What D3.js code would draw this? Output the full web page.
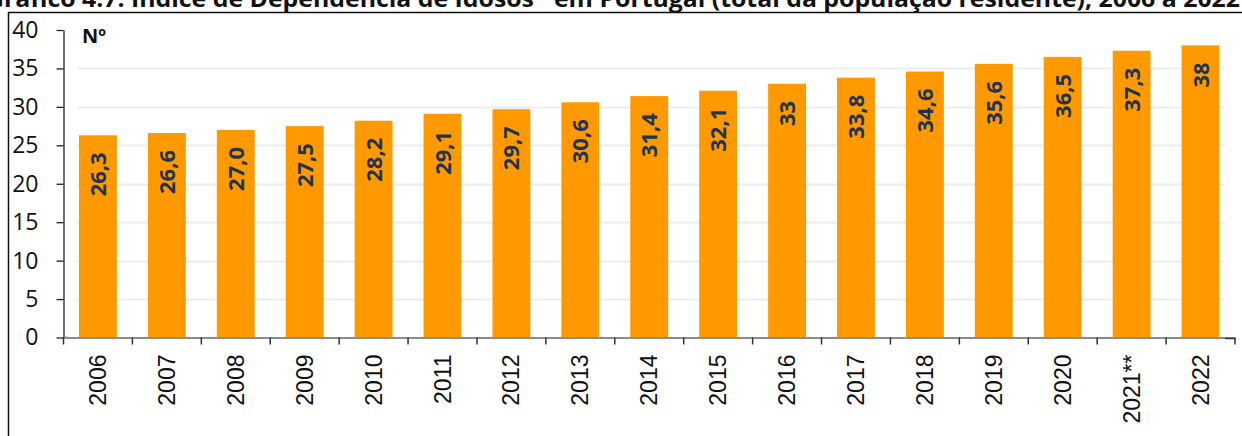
<!DOCTYPE html>
<html>
<head>
<meta charset="utf-8">
<script src="https://cdn.jsdelivr.net/npm/d3@7"></script>
<style>
  html, body { margin: 0; padding: 0; background: #fff; }
  svg { display: block; }
</style>
</head>
<body>
<svg id="chart" width="1242" height="436"></svg>
<script>
const title = "Gráfico 4.7: Índice de Dependência de Idosos* em Portugal (total da população residente), 2006 a 2022";
const categories = ["2006","2007","2008","2009","2010","2011","2012","2013","2014","2015","2016","2017","2018","2019","2020","2021**","2022"];
const values = [26.3, 26.6, 27.0, 27.5, 28.2, 29.1, 29.7, 30.6, 31.4, 32.1, 33, 33.8, 34.6, 35.6, 36.5, 37.3, 38];
const valueLabels = ["26,3","26,6","27,0","27,5","28,2","29,1","29,7","30,6","31,4","32,1","33","33,8","34,6","35,6","36,5","37,3","38"];
const yTicks = [0, 5, 10, 15, 20, 25, 30, 35, 40];
const unitLabel = "Nº";

const svg = d3.select("#chart");
const W = 1242, H = 436;

// frame + title
svg.append("text")
  .attr("x", -14).attr("y", 7)
  .attr("textLength", 1254).attr("lengthAdjust", "spacingAndGlyphs")
  .style("font-family", "'Open Sans', 'Liberation Sans', sans-serif")
  .style("font-weight", "bold").style("font-size", "24px")
  .attr("fill", "#111")
  .text(title);
svg.append("line").attr("x1", 8).attr("x2", W).attr("y1", 12.5).attr("y2", 12.5)
  .attr("stroke", "#111").attr("stroke-width", 1.5);
svg.append("line").attr("x1", 8.5).attr("x2", 8.5).attr("y1", 12).attr("y2", H)
  .attr("stroke", "#111").attr("stroke-width", 1.5);

const x0 = 63.5, x1 = 1235, yTop = 30, yBot = 337.5;
const x = d3.scaleBand().domain(categories).range([x0, x1]).paddingInner(0.45).paddingOuter(0.225);
const y = d3.scaleLinear().domain([0, 40]).range([yBot, yTop]);

// gridlines
svg.append("g").selectAll("line").data(yTicks.filter(t => t > 0 && t < 40)).join("line")
  .attr("x1", 77).attr("x2", 1225)
  .attr("y1", d => Math.round(y(d)) + 0.5).attr("y2", d => Math.round(y(d)) + 0.5)
  .attr("stroke", "#ececec").attr("stroke-width", 2);

// bars
svg.append("g").selectAll("rect").data(values).join("rect")
  .attr("x", (d, i) => x(categories[i]))
  .attr("width", x.bandwidth())
  .attr("y", d => y(d))
  .attr("height", d => yBot - y(d))
  .attr("fill", "#ff9900");

// value labels
svg.append("g").selectAll("text").data(values).join("text")
  .attr("transform", (d, i) => `translate(${x(categories[i]) + x.bandwidth() / 2 + 8},${y(d) + 17}) rotate(-90)`)
  .attr("text-anchor", "end")
  .style("font-family", "'Open Sans', sans-serif")
  .style("font-weight", "bold").style("font-size", "22px")
  .attr("fill", "#1f3452")
  .text((d, i) => valueLabels[i]);

// y axis
const yAxis = d3.axisLeft(y).tickValues(yTicks).tickSize(7).tickSizeOuter(0).tickFormat(d3.format("d"));
const gy = svg.append("g").attr("transform", `translate(${x0},0)`).call(yAxis);
gy.select(".domain").attr("stroke", "#222").attr("stroke-width", 1.3);
gy.selectAll(".tick line").attr("stroke", "#222").attr("stroke-width", 1.3);
gy.selectAll(".tick text")
  .attr("x", -25)
  .style("font-family", "'Open Sans', sans-serif").style("font-size", "23px").attr("fill", "#111");
// zero tick crossing
svg.append("line").attr("x1", x0).attr("x2", x0 + 5).attr("y1", yBot).attr("y2", yBot)
  .attr("stroke", "#222").attr("stroke-width", 1.3);

// x axis
const xAxis = d3.axisBottom(x).tickSize(0).tickSizeOuter(0);
const gx = svg.append("g").attr("transform", `translate(0,${yBot})`).call(xAxis);
gx.select(".domain").attr("stroke", "#8c8c8c").attr("stroke-width", 2);
gx.selectAll(".tick text")
  .attr("transform", "rotate(-90)")
  .attr("x", -17).attr("y", 0).attr("dy", "0.35em")
  .attr("text-anchor", "end")
  .style("font-family", "'Liberation Sans', Arial, sans-serif").style("font-size", "23px").attr("fill", "#111");
// category boundary ticks
const bounds = categories.slice(1).map(c => x(c) - x.step() * x.paddingInner() / 2);
svg.append("g").selectAll("line").data(bounds).join("line")
  .attr("x1", d => d).attr("x2", d => d).attr("y1", yBot).attr("y2", yBot + 7)
  .attr("stroke", "#333").attr("stroke-width", 1.5);
svg.append("line").attr("x1", x0).attr("x2", x0).attr("y1", yBot).attr("y2", yBot + 7)
  .attr("stroke", "#333").attr("stroke-width", 1.5);
svg.append("path").attr("d", `M${x1 - 10},${yBot + 1}H${x1}V${yBot + 7}`)
  .attr("fill", "none").attr("stroke", "#333").attr("stroke-width", 1.5);

// unit label
svg.append("text").attr("x", 82).attr("y", 43)
  .style("font-family", "'Open Sans', sans-serif").style("font-weight", "bold").style("font-size", "20px")
  .attr("fill", "#111").text(unitLabel);
</script>
</body>
</html>
